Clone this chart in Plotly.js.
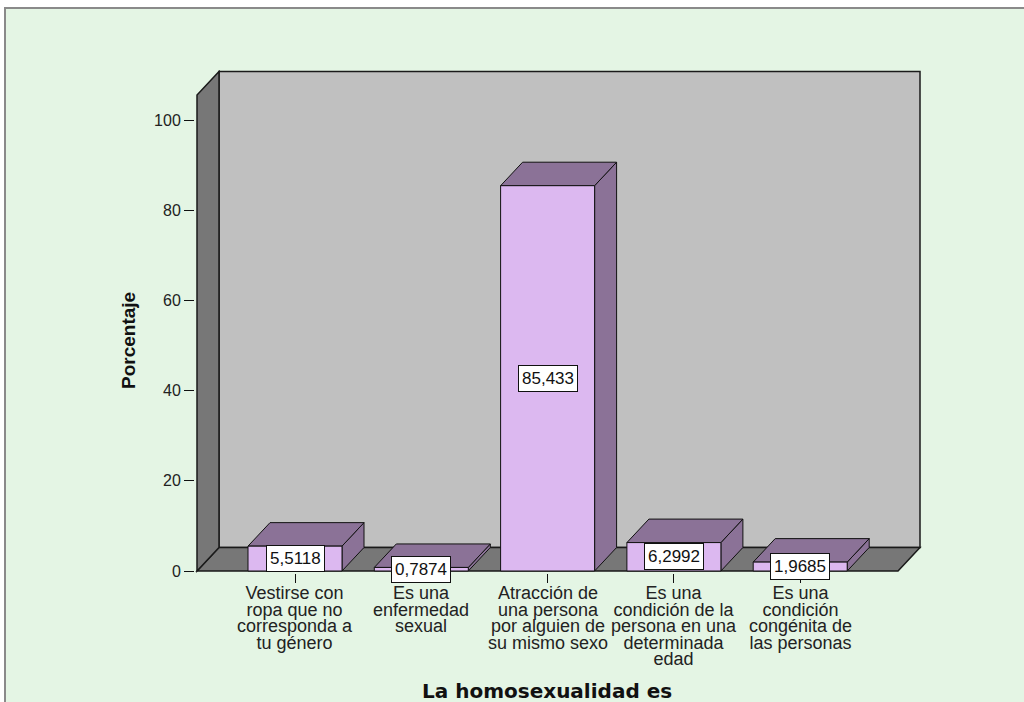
<!DOCTYPE html>
<html>
<head>
<meta charset="utf-8">
<script src="https://cdn.plot.ly/plotly-3.0.1.min.js"></script>
<style>
  html, body { margin: 0; padding: 0; background: #ffffff; }
  #chart { width: 1024px; height: 702px; }
</style>
</head>
<body>
<div id="chart"></div>
<script>
// ---- data ----
const categories = [
  "Vestirse con<br>ropa que no<br>corresponda a<br>tu género",
  "Es una<br>enfermedad<br>sexual",
  "Atracción de<br>una persona<br>por alguien de<br>su mismo sexo",
  "Es una<br>condición de la<br>persona en una<br>determinada<br>edad",
  "Es una<br>condición<br>congénita de<br>las personas"
];
const percentages = [5.5118, 0.7874, 85.433, 6.2992, 1.9685];
const yTickValues = [0, 20, 40, 60, 80, 100];
const xTitle = "La homosexualidad es";
const yTitle = "Porcentaje";

// ---- geometry / style ----
const W = 1024, H = 702;
const PX_PER_CAT = 126.3;     // px per category step
const PX_PER_PCT = 4.51;      // px per percent
const X0_PX = 295, Y0_PX = 571; // pixel position of category 0 and value 0
const PLOT_L = 195, PLOT_R = 923, PLOT_T = 70, PLOT_B = 573;
const xRange = [(PLOT_L - X0_PX) / PX_PER_CAT, (PLOT_R - X0_PX) / PX_PER_CAT];
const yRange = [(Y0_PX - PLOT_B) / PX_PER_PCT, (Y0_PX - PLOT_T) / PX_PER_PCT];
const DX = 22 / PX_PER_CAT;       // depth offset in x units
const DY = 23.5 / PX_PER_PCT;     // depth offset in y units
const WALL_X0 = (197 - X0_PX) / PX_PER_CAT;
const WALL_X1 = (898 - X0_PX) / PX_PER_CAT;
const WALL_TOP = (Y0_PX - 95) / PX_PER_PCT;
const BAR_W = 94 / PX_PER_CAT;

const FRONT = '#dcb8f0', SHADE = '#8b7297', WALL = '#c0c0c0', FLOOR = '#777777';
const xIdx = categories.map((_, i) => i);

function poly(pts) {
  return 'M' + pts.map(p => p[0] + ',' + p[1]).join(' L') + ' Z';
}
function pxX(px) { return (px - PLOT_L) / (PLOT_R - PLOT_L); }
function pxY(py) { return (PLOT_B - py) / (PLOT_B - PLOT_T); }

const shapes = [];
// outer frame
shapes.push({type: 'rect', xref: 'paper', yref: 'paper', layer: 'below',
  x0: pxX(5), x1: pxX(W + 10), y0: pxY(8), y1: pxY(H + 10),
  fillcolor: '#e4f5e4', line: {color: '#8a8a8a', width: 2}});
// back wall
shapes.push({type: 'path', xref: 'x', yref: 'y', layer: 'below',
  path: poly([[WALL_X0 + DX, DY], [WALL_X1 + DX, DY], [WALL_X1 + DX, WALL_TOP + DY], [WALL_X0 + DX, WALL_TOP + DY]]),
  fillcolor: WALL, line: {color: '#1a1a1a', width: 1.5}});
// floor
shapes.push({type: 'path', xref: 'x', yref: 'y', layer: 'below',
  path: poly([[WALL_X0, 0], [WALL_X1, 0], [WALL_X1 + DX, DY], [WALL_X0 + DX, DY]]),
  fillcolor: FLOOR, line: {color: '#1a1a1a', width: 1.5}});
// left wall
shapes.push({type: 'path', xref: 'x', yref: 'y', layer: 'below',
  path: poly([[WALL_X0, 0], [WALL_X0 + DX, DY], [WALL_X0 + DX, WALL_TOP + DY], [WALL_X0, WALL_TOP]]),
  fillcolor: FLOOR, line: {color: '#1a1a1a', width: 1.5}});
// bar tops and sides
percentages.forEach((v, i) => {
  const l = i - BAR_W / 2, r = i + BAR_W / 2;
  shapes.push({type: 'path', xref: 'x', yref: 'y', layer: 'below',
    path: poly([[r, 0], [r + DX, DY], [r + DX, v + DY], [r, v]]),
    fillcolor: SHADE, line: {color: '#111', width: 1}});
  shapes.push({type: 'path', xref: 'x', yref: 'y', layer: 'below',
    path: poly([[l, v], [r, v], [r + DX, v + DY], [l + DX, v + DY]]),
    fillcolor: SHADE, line: {color: '#111', width: 1}});
});

const annotations = [];
// value labels
percentages.forEach((v, i) => {
  annotations.push({x: i, y: v / 2, xref: 'x', yref: 'y', showarrow: false,
    text: String(v).replace('.', ','),
    font: {family: 'Liberation Sans, Arial, sans-serif', size: 17, color: '#111'},
    bgcolor: '#ffffff', bordercolor: '#111', borderwidth: 1, borderpad: 3,
    xanchor: 'center', yanchor: 'middle'});
});
// category labels: one text per category; the small base size gives tight line
// spacing, the inner span sets the glyph size
categories.forEach((c, i) => {
  const txt = c.split('<br>').map(s => '<span style="font-size:18px">' + s + '</span>').join('<br>');
  annotations.push({x: i, y: 0, xref: 'x', yref: 'y', showarrow: false,
    text: txt, xanchor: 'center', yanchor: 'top', yshift: -10, align: 'center',
    font: {family: 'Liberation Sans, Arial, sans-serif', size: 12.7, color: '#222'}});
});
// axis titles
annotations.push({xref: 'paper', yref: 'paper', x: pxX(128), y: pxY(341), showarrow: false,
  text: yTitle, textangle: -90, xanchor: 'center', yanchor: 'middle',
  font: {family: 'Liberation Sans, Arial, sans-serif', size: 19, color: '#111', weight: 'bold'}});
annotations.push({xref: 'paper', yref: 'paper', x: pxX(547), y: pxY(691), showarrow: false,
  text: xTitle, xanchor: 'center', yanchor: 'middle',
  font: {family: 'DejaVu Sans, sans-serif', size: 20, color: '#111', weight: 'bold'}});

const traces = [{
  type: 'bar', x: xIdx, y: percentages, width: BAR_W,
  marker: {color: FRONT, line: {color: '#111', width: 1}},
  hoverinfo: 'skip', cliponaxis: false
}];

const layout = {
  width: W, height: H,
  margin: {l: PLOT_L, r: W - PLOT_R, t: PLOT_T, b: H - PLOT_B, pad: 0},
  paper_bgcolor: '#ffffff', plot_bgcolor: 'rgba(0,0,0,0)',
  showlegend: false,
  xaxis: {type: 'linear', range: xRange, tickmode: 'array', tickvals: xIdx,
    showticklabels: false, ticks: 'outside', ticklen: 9, tickcolor: '#111', tickwidth: 1,
    showgrid: false, zeroline: false, showline: false, fixedrange: true},
  yaxis: {range: yRange, tickmode: 'array', tickvals: yTickValues,
    ticks: 'outside', ticklen: 10, tickcolor: '#111', tickwidth: 1,
    tickfont: {family: 'Liberation Sans, Arial, sans-serif', size: 16, color: '#222'},
    showgrid: false, zeroline: false, showline: false, fixedrange: true},
  shapes: shapes,
  annotations: annotations
};

Plotly.newPlot('chart', traces, layout, {staticPlot: true, displayModeBar: false});
</script>
</body>
</html>
